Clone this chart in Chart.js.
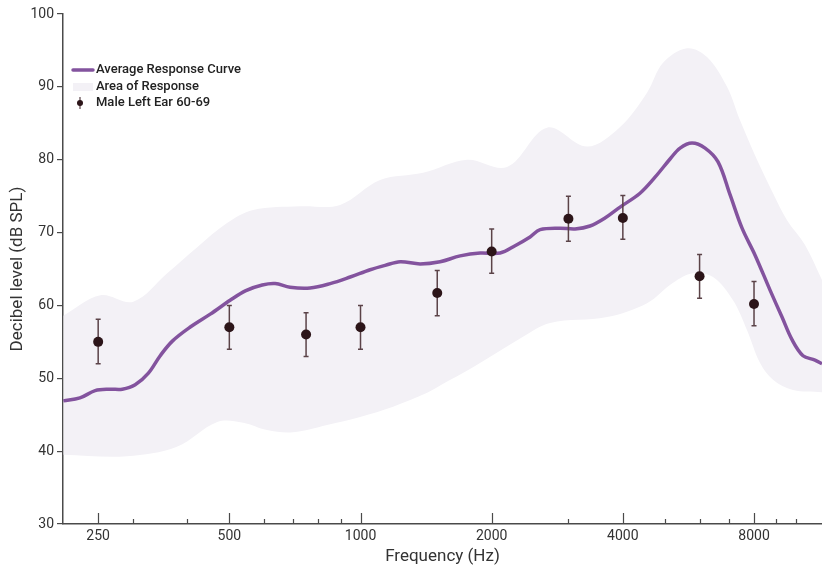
<!DOCTYPE html>
<html>
<head>
<meta charset="utf-8">
<script src="https://cdn.jsdelivr.net/npm/chart.js@4.4.1/dist/chart.umd.min.js"></script>
<style>
  html, body { margin: 0; padding: 0; background: #fff; }
  #wrap { width: 822px; height: 573px; position: relative; }
</style>
</head>
<body>
<div id="wrap"><canvas id="chart"></canvas></div>
<script>
// ── Data ──────────────────────────────────────
const MAJOR_TICKS = [250, 500, 1000, 2000, 4000, 8000];
const MINOR_TICKS = [300, 400, 600, 700, 800, 900, 3000, 5000, 6000, 7000, 9000, 10000];

// Average response curve
const avgFreq = [208, 227, 246, 266, 284, 304, 326, 347, 370, 406, 452, 502, 544, 595, 637, 689, 766, 852, 947,
  1052, 1139, 1233, 1370, 1523, 1693, 1882, 2091, 2263, 2450, 2583, 2870, 3108, 3363, 3640, 3942, 4380, 4742,
  5133, 5412, 5765, 6177, 6615, 7048, 7510, 8045, 8707, 9275, 9778, 10362, 11040, 11458];
const avgDb = [46.9, 47.3, 48.3, 48.5, 48.5, 49.1, 50.7, 53.1, 55.1, 57, 58.8, 60.7, 62, 62.8, 63, 62.5, 62.4, 63, 63.9,
  64.9, 65.5, 66, 65.7, 66, 66.8, 67.2, 67.2, 68.2, 69.4, 70.4, 70.6, 70.5, 70.9, 72, 73.5, 75.4, 77.6,
  80.1, 81.6, 82.3, 81.6, 79.7, 75.2, 70.6, 66.9, 62.1, 58.4, 55.3, 53.1, 52.5, 52];

// Area of response – upper / lower edge
const upperFreq = [208, 253, 301, 360, 422, 494, 567, 727, 898, 1109, 1392, 1756, 2169, 2680, 3310, 3942, 4545,
  4947, 5614, 6241, 6937, 7430, 8128, 8845, 9526, 10475, 11458];
const upperDb = [58.6, 61.4, 60.5, 64.4, 68, 71.3, 73.1, 73.6, 73.8, 77.2, 78.2, 80, 79, 84.4, 81.8, 84.5, 89.2,
  93.3, 95.3, 94.1, 90, 85.4, 80, 75.4, 71.7, 68.3, 63.5];
const lowerFreq = [208, 291, 379, 469, 538, 610, 700, 838, 998, 1188, 1422, 1523, 1812, 2360, 2723, 3680, 4545,
  5216, 5796, 6442, 7160, 7711, 8260, 8845, 9830, 11458];
const lowerDb = [39.5, 39.3, 40.6, 44, 43.9, 42.9, 42.6, 43.6, 44.7, 46.1, 48, 49, 51.5, 55.7, 57.6, 58.4, 60.3,
  63.1, 64.4, 63.9, 60.7, 56.6, 52.1, 49.8, 48.4, 48.1];

// Male Left Ear 60-69 (mean with error range)
const earFreq = [250, 500, 750, 1000, 1500, 2000, 3000, 4000, 6000, 8000];
const earDb   = [55, 57, 56, 57, 61.7, 67.4, 71.9, 72, 64, 60.2];
const earLow  = [52, 54, 53, 54, 58.6, 64.4, 68.8, 69.1, 61, 57.2];
const earHigh = [58.1, 60, 59, 60, 64.8, 70.5, 75, 75.1, 67, 63.3];

const LEGEND_LABELS = ['Average Response Curve', 'Area of Response', 'Male Left Ear 60-69'];

// ── Styles ────────────────────────────────────
const FONT = 'Roboto, "Open Sans", sans-serif';
const LINE_COLOR = '#83539e';
const AREA_COLOR = '#f3f1f6';
const DOT_COLOR  = '#2c1519';
const BAR_COLOR  = '#5b4348';
const AXIS_COLOR = '#4a4a4a';

const toXY = (xs, ys) => xs.map((x, i) => ({ x, y: ys[i] }));

// error bars, drawn right after the average curve so dots sit on top
const errorBars = {
  id: 'errorBars',
  afterDatasetDraw(chart, args) {
    if (args.index !== 2) return;
    const { ctx, scales: { x, y } } = chart;
    ctx.save();
    ctx.strokeStyle = BAR_COLOR;
    ctx.lineWidth = 1.5;
    earFreq.forEach((f, i) => {
      const px = x.getPixelForValue(f);
      const yt = y.getPixelForValue(earHigh[i]);
      const yb = y.getPixelForValue(earLow[i]);
      ctx.beginPath();
      ctx.moveTo(px, yt); ctx.lineTo(px, yb);
      ctx.moveTo(px - 2.5, yt); ctx.lineTo(px + 2.5, yt);
      ctx.moveTo(px - 2.5, yb); ctx.lineTo(px + 2.5, yb);
      ctx.stroke();
    });
    ctx.restore();
  },
};

// inward x tick marks + legend
const decorations = {
  id: 'decorations',
  afterDraw(chart) {
    const { ctx, scales: { x }, chartArea } = chart;
    const base = chartArea.bottom;
    ctx.save();
    ctx.strokeStyle = AXIS_COLOR;
    ctx.lineWidth = 1.2;
    ctx.beginPath();
    MAJOR_TICKS.forEach(v => {
      const px = Math.round(x.getPixelForValue(v)) + 0.5;
      ctx.moveTo(px, base); ctx.lineTo(px, base - 11);
    });
    MINOR_TICKS.forEach(v => {
      const px = Math.round(x.getPixelForValue(v)) + 0.5;
      ctx.moveTo(px, base); ctx.lineTo(px, base - 5);
    });
    ctx.stroke();

    // legend
    const lx = 73, rows = [70, 87, 103];
    ctx.lineCap = 'round';
    ctx.strokeStyle = LINE_COLOR;
    ctx.lineWidth = 3.5;
    ctx.beginPath(); ctx.moveTo(lx, rows[0]); ctx.lineTo(lx + 20, rows[0]); ctx.stroke();
    ctx.fillStyle = AREA_COLOR;
    ctx.fillRect(lx, rows[1] - 4, 20, 8);
    ctx.strokeStyle = BAR_COLOR;
    ctx.lineWidth = 1.2;
    ctx.lineCap = 'butt';
    ctx.beginPath(); ctx.moveTo(lx + 7, rows[2] - 6); ctx.lineTo(lx + 7, rows[2] + 6); ctx.stroke();
    ctx.fillStyle = DOT_COLOR;
    ctx.beginPath(); ctx.arc(lx + 7, rows[2], 3, 0, Math.PI * 2); ctx.fill();

    ctx.fillStyle = '#222';
    ctx.font = '500 13px ' + FONT;
    ctx.textBaseline = 'middle';
    LEGEND_LABELS.forEach((t, i) => ctx.fillText(t, lx + 23, rows[i]));
    ctx.restore();
  },
};

new Chart(document.getElementById('chart'), {
  type: 'line',
  data: {
    datasets: [
      {
        label: 'Area upper', data: toXY(upperFreq, upperDb),
        borderWidth: 0, pointRadius: 0, tension: 0.35,
        backgroundColor: AREA_COLOR, fill: '+1', order: 4,
      },
      {
        label: 'Area lower', data: toXY(lowerFreq, lowerDb),
        borderWidth: 0, pointRadius: 0, tension: 0.35, fill: false, order: 3,
      },
      {
        label: LEGEND_LABELS[0], data: toXY(avgFreq, avgDb),
        borderColor: LINE_COLOR, borderWidth: 3.5, pointRadius: 0, tension: 0.35,
        fill: false, order: 2,
      },
      {
        label: LEGEND_LABELS[2], data: toXY(earFreq, earDb),
        showLine: false, pointRadius: 5, pointBackgroundColor: DOT_COLOR,
        pointBorderWidth: 0, order: 1,
      },
    ],
  },
  options: {
    responsive: true,
    maintainAspectRatio: false,
    animation: false,
    layout: { autoPadding: false, padding: { top: 14, right: 0, left: 0, bottom: 0 } },
    plugins: { legend: { display: false }, tooltip: { enabled: false } },
    scales: {
      x: {
        type: 'logarithmic',
        min: 207.6, max: 11458,
        afterBuildTicks: s => { s.ticks = MAJOR_TICKS.map(v => ({ value: v })); },
        afterFit: s => { s.height = 49; s.paddingLeft = 0; s.paddingRight = 0; },
        grid: { display: false, drawTicks: false },
        border: { display: true, color: AXIS_COLOR, width: 1.5 },
        ticks: { padding: 4, autoSkip: false, maxRotation: 0, color: '#333',
                 font: { family: FONT, size: 14 }, callback: v => String(v) },
        title: { display: true, text: 'Frequency (Hz)', color: '#333',
                 font: { family: FONT, size: 17 }, padding: { top: 0, bottom: 6 } },
      },
      y: {
        min: 30, max: 100,
        afterFit: s => { s.width = 63; },
        grid: { drawOnChartArea: false, drawTicks: true, tickLength: 6, color: AXIS_COLOR, lineWidth: 1.2 },
        border: { display: true, color: AXIS_COLOR, width: 1.5 },
        ticks: { stepSize: 10, padding: 3, color: '#333', font: { family: FONT, size: 14 } },
        title: { display: true, text: 'Decibel level (dB SPL)', color: '#333',
                 font: { family: FONT, size: 17 }, padding: { top: 8, bottom: 0 } },
      },
    },
  },
  plugins: [errorBars, decorations],
});
</script>
</body>
</html>
